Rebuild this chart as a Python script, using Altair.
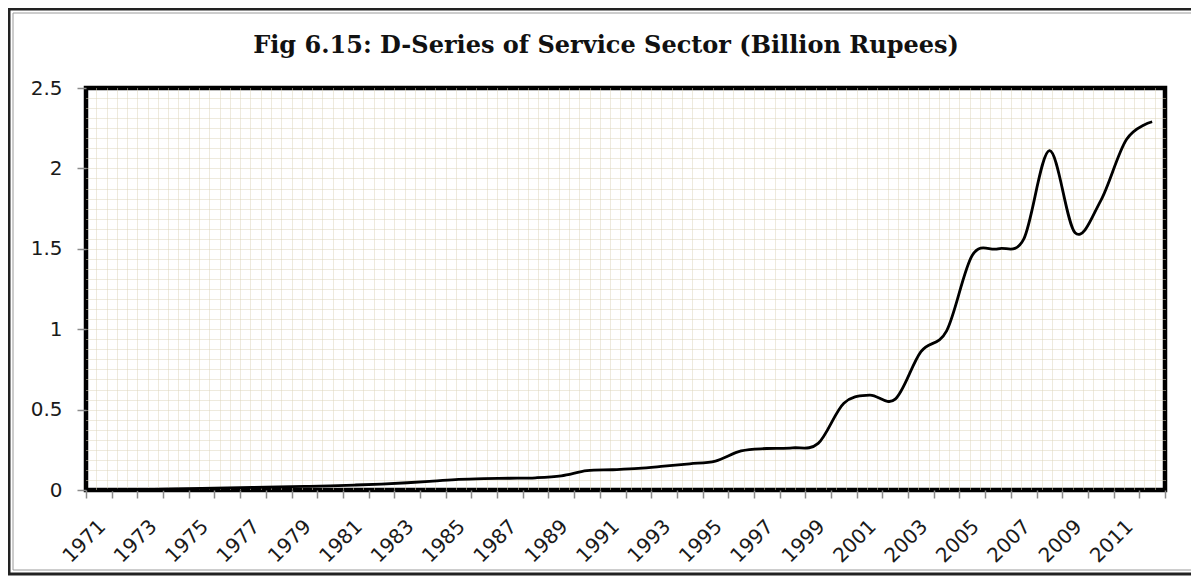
import altair as alt
import pandas as pd

years = list(range(1971, 2013))
values = [0.000, 0.002, 0.004, 0.007, 0.010, 0.013, 0.016, 0.019, 0.022, 0.026,
          0.031, 0.037, 0.045, 0.055, 0.066, 0.071, 0.073, 0.076, 0.088, 0.120,
          0.126, 0.134, 0.148, 0.163, 0.180, 0.243, 0.258, 0.262, 0.290, 0.540,
          0.590, 0.565, 0.860, 0.990, 1.460, 1.500, 1.560, 2.110, 1.600, 1.800,
          2.180, 2.290]
label_years = list(range(1971, 2012, 2))
tick_bounds = [y - 0.5 for y in range(1971, 2014)]
y_ticks = [0, 0.5, 1, 1.5, 2, 2.5]
# pattern-fill style minor grid of the plot area (inner lines only)
x_grid = [1970.5 + 0.4 * k for k in range(1, 105)]
y_grid = [0.0625 * k for k in range(1, 40)]

title_text = "Fig 6.15: D-Series of Service Sector (Billion Rupees)"

df = pd.DataFrame({"year": years, "value": values})

x_scale = alt.Scale(domain=[1970.5, 2012.5], nice=False, zero=False)
y_scale = alt.Scale(domain=[0, 2.5], nice=False, zero=True)

LABEL_FONT = "DejaVu Sans"
LABEL_SIZE = 20
GRID_COLOR = "#dcd5ba"

base = alt.Chart(df)

grid_layer = base.mark_line(strokeOpacity=0).encode(
    x=alt.X("year:Q", scale=x_scale,
            axis=alt.Axis(values=x_grid, orient="bottom", grid=True, labels=False,
                          ticks=False, domain=False, title=None,
                          gridColor=GRID_COLOR, gridDash=[1, 1], gridWidth=1)),
    y=alt.Y("value:Q", scale=y_scale,
            axis=alt.Axis(values=y_grid, orient="left", grid=True, labels=False,
                          ticks=False, domain=False, title=None,
                          gridColor=GRID_COLOR, gridDash=[1, 1], gridWidth=1)),
)

tick_layer = base.mark_line(strokeOpacity=0).encode(
    x=alt.X("year:Q", scale=x_scale,
            axis=alt.Axis(values=tick_bounds, orient="bottom", grid=False, labels=False,
                          ticks=True, tickSize=8, tickColor="#8c8c8c", tickWidth=1.5,
                          domain=False, title=None)),
    y=alt.Y("value:Q", scale=y_scale,
            axis=alt.Axis(values=y_ticks, orient="left", grid=False, labels=True,
                          format=".1~f", ticks=True, tickSize=9, tickColor="#8c8c8c",
                          tickWidth=1.5, labelPadding=15, labelFont=LABEL_FONT,
                          labelFontSize=LABEL_SIZE, labelColor="#1a1a1a", labelFlush=False,
                          labelOverlap=False, domain=False, title=None)),
)

line_layer = base.mark_line(color="black", strokeWidth=2.8, interpolate="cardinal").encode(
    x=alt.X("year:Q", scale=x_scale,
            axis=alt.Axis(values=label_years, orient="bottom", format="d", labelAngle=-45,
                          grid=False, ticks=True, tickSize=8, tickOpacity=0,
                          labelPadding=18, labelOffset=-4, labelFont=LABEL_FONT,
                          labelFontSize=LABEL_SIZE, labelColor="#1a1a1a", labelFlush=False,
                          labelOverlap=False, domain=False, title=None)),
    y=alt.Y("value:Q", scale=y_scale, axis=None),
)

frame_df = pd.DataFrame({"k": [0]})
outer_frame = alt.Chart(frame_df).mark_rect(
    fillOpacity=0, stroke="#222222", strokeWidth=3
).encode(x=alt.value(-77), x2=alt.value(1130), y=alt.value(-79), y2=alt.value(486))
inner_frame = alt.Chart(frame_df).mark_rect(
    fillOpacity=0, stroke="#9a9a9a", strokeWidth=1
).encode(x=alt.value(-73), x2=alt.value(1126), y=alt.value(-75), y2=alt.value(482))

title_mark = alt.Chart(frame_df).mark_text(
    text=title_text, font="DejaVu Serif", fontSize=24, fontWeight="bold",
    color="#111111", align="center", baseline="alphabetic"
).encode(x=alt.value(520), y=alt.value(-35))

chart = alt.layer(
    grid_layer, tick_layer, line_layer, outer_frame, inner_frame, title_mark
).resolve_axis(
    x="independent", y="independent"
).properties(
    width=1079,
    height=402,
    padding={"left": 78, "top": 80, "right": 26, "bottom": 87},
    autosize=alt.AutoSizeParams(type="none"),
    background="white",
).configure_view(
    stroke="black", strokeWidth=4.5
)

chart.save("out.html", embed_options={"renderer": "svg", "actions": False})
